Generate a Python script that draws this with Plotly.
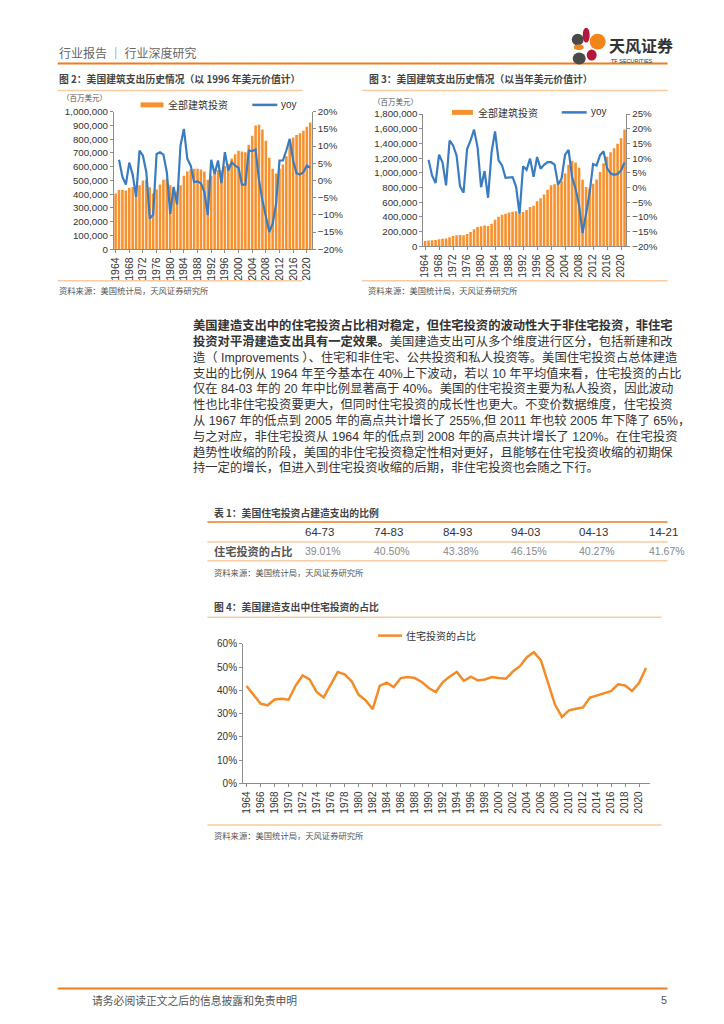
import plotly.graph_objects as go

W, H = 724, 1024
# empirical mapping from target page pixels to figure pixels (page offset / scale seen in render)
OX, SX = 12.2, 0.995
OY, SY = 11.3, 0.9916

def X(px): return ((px - OX) / SX) / W
def Y(py): return 1 - ((py - OY) / SY) / H

# ---------------- data ----------------
years = [str(y) for y in range(1964, 2022)]

# 图2 以1996年美元价值计 (百万美元)
real_total = [405000, 430000, 432000, 427000, 447000, 452000, 440000, 465000, 500000, 505000,
              450000, 405000, 435000, 470000, 505000, 512000, 465000, 450000, 420000, 465000,
              535000, 565000, 580000, 585000, 585000, 580000, 565000, 505000, 535000, 550000,
              575000, 572000, 605000, 622000, 660000, 690000, 715000, 710000, 705000, 760000,
              825000, 900000, 905000, 870000, 788000, 665000, 585000, 550000, 585000, 615000,
              675000, 797000, 813000, 830000, 843000, 862000, 891000, 922000]
real_yoy = [None, 6.0, 1.0, -1.2, 5.2, 1.7, -4.8, 8.7, 7.2, 2.4,
            -11.1, -9.9, 7.7, 8.2, 7.5, 2.4, -9.7, -1.9, -7.0, 10.1,
            15.0, 6.3, 4.3, -0.5, -0.3, -0.8, -3.4, -10.1, 6.0, 1.9,
            5.8, -0.8, 8.2, 2.9, 5.3, 4.3, 3.7, -1.2, -1.2, 8.7,
            8.5, 9.0, 0.0, -5.8, -10.6, -15.0, -12.6, -6.8, 5.8, 5.8,
            8.7, 12.1, 5.8, 2.1, 1.7, 2.4, 4.3, 3.7]

# 图3 以当年美元价值计 (百万美元)
nominal_total = [72000, 78000, 82000, 84000, 94000, 102000, 105000, 122000, 138000, 150000,
                 153000, 150000, 168000, 195000, 232000, 262000, 273000, 282000, 275000, 305000,
                 360000, 402000, 430000, 442000, 458000, 470000, 477000, 435000, 465000, 492000,
                 535000, 550000, 612000, 655000, 705000, 770000, 830000, 845000, 860000, 890000,
                 990000, 1110000, 1165000, 1140000, 1070000, 905000, 805000, 785000, 850000, 910000,
                 1010000, 1130000, 1220000, 1280000, 1335000, 1395000, 1470000, 1590000]
nominal_yoy = [None, 9.4, 4.1, 1.5, 11.2, 8.5, 0.7, 16.0, 14.3, 10.9,
               0.4, -1.8, 13.1, 16.0, 19.7, 13.7, 0.1, 5.6, -3.5, 12.0,
               19.1, 9.2, 7.5, 3.3, 3.5, 3.5, 0.3, -9.1, 7.2, 6.0,
               9.8, 3.6, 10.4, 6.4, 7.7, 8.6, 8.6, 7.8, 1.0, 3.0,
               11.2, 12.8, 3.5, -0.4, -6.1, -15.5, -8.9, -2.0, 8.0, 7.5,
               11.0, 12.3, 6.5, 4.8, 4.3, 4.6, 5.8, 8.5]

# 图4 住宅投资的占比 (%)
res_share = [41.9, 38.0, 34.3, 33.6, 36.1, 36.4, 36.0, 42.1, 46.4, 44.7,
             39.3, 37.0, 42.4, 47.9, 46.9, 43.9, 38.1, 35.7, 31.9, 41.9,
             43.3, 41.4, 45.3, 45.7, 45.3, 43.6, 41.0, 39.3, 43.6, 46.0,
             47.9, 44.1, 45.9, 44.3, 44.7, 45.7, 45.3, 45.0, 48.1, 50.4,
             54.3, 56.4, 52.9, 42.9, 33.9, 28.6, 31.4, 32.1, 32.7, 36.9,
             37.9, 38.6, 39.7, 42.6, 42.1, 39.7, 43.3, 49.6]

# 表1
table_periods = ["64-73", "74-83", "84-93", "94-03", "04-13", "14-21"]
table_values = ["39.01%", "40.50%", "43.38%", "46.15%", "40.27%", "41.67%"]

body_lines = [
    "<b>美国建造支出中的住宅投资占比相对稳定，但住宅投资的波动性大于非住宅投资，非住宅</b>",
    "<b>投资对平滑建造支出具有一定效果。</b>美国建造支出可从多个维度进行区分，包括新建和改",
    "造（ Improvements ）、住宅和非住宅、公共投资和私人投资等。美国住宅投资占总体建造",
    "支出的比例从 1964 年至今基本在 40%上下波动，若以 10 年平均值来看，住宅投资的占比",
    "仅在 84-03 年的 20 年中比例显著高于 40%。美国的住宅投资主要为私人投资，因此波动",
    "性也比非住宅投资要更大，但同时住宅投资的成长性也更大。不变价数据维度，住宅投资",
    "从 1967 年的低点到 2005 年的高点共计增长了 255%,但 2011 年也较 2005 年下降了 65%，",
    "与之对应，非住宅投资从 1964 年的低点到 2008 年的高点共计增长了 120%。在住宅投资",
    "趋势性收缩的阶段，美国的非住宅投资稳定性相对更好，且能够在住宅投资收缩的初期保",
    "持一定的增长，但进入到住宅投资收缩的后期，非住宅投资也会随之下行。",
]

# ---------------- styles ----------------
ORANGE = "#F5922F"
BLUE = "#3A7CC0"
LINE_ORANGE = "#F28C28"
DARK_OR = "#EE7D1F"
LIGHT_OR = "#F7CBA3"
AX = "#8C8C8C"
CJK = "Noto Sans CJK SC"
BODY_FONT = "Liberation Sans, Noto Sans CJK SC"
LAT = "Liberation Sans"
TXT = "#333333"

fig = go.Figure()
fig.add_trace(go.Bar(x=years, y=real_total, xaxis="x", yaxis="y", marker_color=ORANGE,
                     marker_line_width=0, showlegend=False))
fig.add_trace(go.Scatter(x=years, y=real_yoy, xaxis="x", yaxis="y2", mode="lines",
                         line=dict(color=BLUE, width=2.2), showlegend=False))
fig.add_trace(go.Bar(x=years, y=nominal_total, xaxis="x2", yaxis="y3", marker_color=ORANGE,
                     marker_line_width=0, showlegend=False))
fig.add_trace(go.Scatter(x=years, y=nominal_yoy, xaxis="x2", yaxis="y4", mode="lines",
                         line=dict(color=BLUE, width=2.2), showlegend=False))
fig.add_trace(go.Scatter(x=years, y=res_share, xaxis="x3", yaxis="y5", mode="lines",
                         line=dict(color=LINE_ORANGE, width=2.5), showlegend=False))

def xax(d0, d1, anchor, every):
    return dict(domain=[X(d0), X(d1)], anchor=anchor, type="category",
                range=[-0.5, len(years) - 0.5], tickmode="array", tickvals=years[::every],
                tickangle=-90, tickfont=dict(family=LAT, size=10.5, color=TXT),
                showline=True, linecolor=AX, linewidth=1, ticks="outside", ticklen=3,
                tickcolor=AX, showgrid=False, zeroline=False)

def yax(t, b, anchor, rng, dtick, fmt="", suffix="", side="left", overlay=None):
    d = dict(anchor=anchor, range=rng, dtick=dtick, tickformat=fmt, ticksuffix=suffix,
             side=side, tickfont=dict(family=LAT, size=9.7, color=TXT), showline=True,
             linecolor=AX, linewidth=1, ticks="outside", ticklen=3, tickcolor=AX,
             showgrid=False, zeroline=False)
    if overlay:
        d["overlaying"] = overlay
    else:
        d["domain"] = [Y(b), Y(t)]
    return d

layout = dict(
    width=W, height=H, margin=dict(l=0, r=0, t=0, b=0),
    paper_bgcolor="white", plot_bgcolor="white", bargap=0.25,
    font=dict(family=CJK, color=TXT),
    xaxis=xax(113.3, 311.7, "y", 4),
    yaxis=yax(109.3, 247.3, "x", [0, 1000000], 100000, fmt=","),
    yaxis2=yax(0, 0, "x", [-20, 20], 5, suffix="%", side="right", overlay="y"),
    xaxis2=xax(423.3, 626.7, "y3", 4),
    yaxis3=yax(111.7, 244.3, "x2", [0, 1800000], 200000, fmt=","),
    yaxis4=yax(0, 0, "x2", [-20, 25], 5, suffix="%", side="right", overlay="y3"),
    xaxis3=xax(242.7, 650, "y5", 2),
    yaxis5=yax(643.3, 783.3, "x3", [0, 60], 10, suffix="%"),
)
layout["xaxis3"]["tickfont"]["size"] = 10
layout["yaxis5"]["tickfont"]["size"] = 10
fig.update_layout(**layout)

ann = []
shapes = []

def text(x, y, s, size, color=TXT, family=CJK, anchor="left", yanchor="middle"):
    ann.append(dict(x=X(x), y=Y(y), xref="paper", yref="paper", text=s, showarrow=False,
                    xanchor=anchor, yanchor=yanchor, align="left", borderpad=0,
                    font=dict(family=family, size=size, color=color)))

def hline(x0, x1, y, color, w):
    shapes.append(dict(type="line", xref="paper", yref="paper", x0=X(x0), x1=X(x1), y0=Y(y), y1=Y(y),
                       line=dict(color=color, width=w)))

def rect(x0, x1, y0, y1, color):
    shapes.append(dict(type="rect", xref="paper", yref="paper", x0=X(x0), x1=X(x1), y0=Y(y1), y1=Y(y0),
                       fillcolor=color, line=dict(width=0)))

def ellipse(x0, x1, y0, y1, color):
    shapes.append(dict(type="circle", xref="paper", yref="paper", x0=X(x0), x1=X(x1), y0=Y(y1), y1=Y(y0),
                       fillcolor=color, line=dict(width=0)))

TITLE = 9.8
SRC = 8.3

# header
text(57, 50, "行业报告 │ 行业深度研究", 12, "#666666")
hline(57, 668, 61, DARK_OR, 2)
ellipse(583, 590, 25, 40, "#B5173B")
ellipse(572, 584, 31, 43, "#4A4A4A")
ellipse(590, 606, 31, 47, "#F08519")
ellipse(574, 584, 42, 47.5, "#F08519")
ellipse(587, 597, 47, 58, "#B5173B")
ellipse(573, 586, 50, 62, "#4A4A4A")
text(608, 42, "<b>天风证券</b>", 16, "#333333")
text(610, 58.5, "TF SECURITIES", 5.5, "#333333", LAT)

# figure 2
text(57, 77, "<b>图 2：美国建筑支出历史情况（以 1996 年美元价值计）</b>", TITLE, "#444444")
hline(57, 302, 88, LIGHT_OR, 1.5)
text(60, 95, "（百万美元）", 7.5, "#555555")
rect(140, 163, 100, 105, ORANGE)
text(166, 102.5, "全部建筑投资", 10)
hline(252, 277, 102.5, BLUE, 2.5)
text(280, 102, "yoy", 10, TXT, LAT)
hline(57, 302, 279, LIGHT_OR, 1.5)
text(57, 288, "资料来源：美国统计局，天风证券研究所", SRC, "#555555")

# figure 3
text(368, 77, "<b>图 3：美国建筑支出历史情况（以当年美元价值计）</b>", TITLE, "#444444")
hline(362, 668, 88, LIGHT_OR, 1.5)
text(372, 99, "（百万美元）", 7.5, "#555555")
rect(452, 473, 107.5, 112.5, ORANGE)
text(477, 110, "全部建筑投资", 10)
hline(562, 587, 110, BLUE, 2.5)
text(590, 109.5, "yoy", 10, TXT, LAT)
hline(362, 668, 279, LIGHT_OR, 1.5)
text(367, 288, "资料来源：美国统计局，天风证券研究所", SRC, "#555555")

# body text, one annotation per printed line
BODY_SIZE = 12.3
for i, s in enumerate(body_lines):
    text(192, 324 + i * 15.85, s, BODY_SIZE, "#333333", BODY_FONT)

# table 1
text(213, 511.7, "<b>表 1：美国住宅投资占建造支出的比例</b>", TITLE, "#444444")
hline(207, 668, 521, DARK_OR, 1.5)
col_x = [304, 372.7, 441.7, 510, 578.3, 648.3]
for cx, p, v in zip(col_x, table_periods, table_values):
    text(cx, 531, p, 11.5, "#333333", LAT)
    text(cx, 550, v, 10.5, "#888888", LAT)
hline(207, 668, 541, LIGHT_OR, 1.5)
text(213, 550, "<b>住宅投资的占比</b>", 11.2, "#555555")
hline(207, 668, 560, LIGHT_OR, 1.5)
text(213, 571, "资料来源：美国统计局，天风证券研究所", SRC, "#555555")

# figure 4
text(213, 606.7, "<b>图 4：美国建造支出中住宅投资的占比</b>", TITLE, "#444444")
hline(207, 662, 616.7, LIGHT_OR, 1.5)
hline(378, 402, 635, LINE_ORANGE, 2.5)
text(405, 635, "住宅投资的占比", 10)
hline(207, 662, 825, LIGHT_OR, 1.5)
text(213, 835, "资料来源：美国统计局，天风证券研究所", SRC, "#555555")

# footer
hline(57, 668, 989, DARK_OR, 2)
text(90, 1001, "请务必阅读正文之后的信息披露和免责申明", 10.8, "#555555")
text(668, 1001, "5", 10.8, "#555555", LAT, anchor="right")

fig.update_layout(annotations=ann, shapes=shapes)
fig.write_html("out.html")
